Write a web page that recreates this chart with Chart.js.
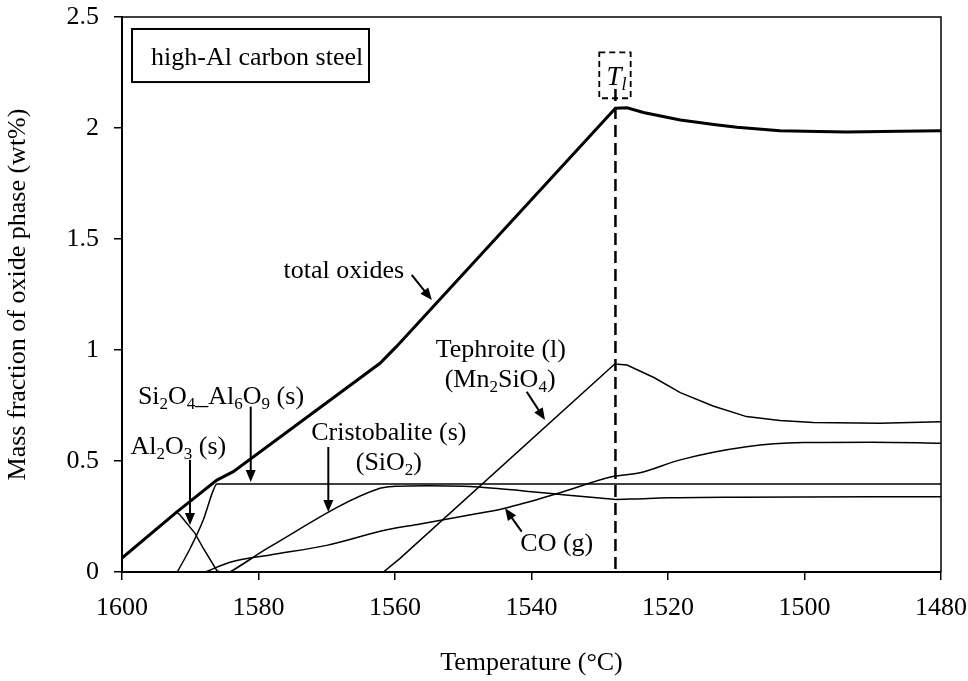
<!DOCTYPE html>
<html>
<head>
<meta charset="utf-8">
<title>Oxide phases in high-Al carbon steel</title>
<script src="https://cdn.jsdelivr.net/npm/chart.js@4.4.1/dist/chart.umd.min.js"></script>
<style>
  html, body { margin: 0; padding: 0; background: #fff; }
  #wrap { width: 968px; height: 681px; }
</style>
</head>
<body>
<div id="wrap"><canvas id="oxideChart" width="968" height="681"></canvas></div>
<script>
const FONT = '"Liberation Serif", "Times New Roman", serif';

// equilibrium oxide amounts (wt%) vs temperature (degC), cooling from 1600
const totalTemp = [1600, 1592, 1586.1, 1583.7, 1562.2, 1559.8, 1527.7, 1526, 1523.6, 1518.2, 1513, 1509.9, 1503.6, 1498, 1493.8, 1486, 1480];
const totalWt   = [0.063, 0.27, 0.414, 0.452, 0.94, 1.015, 2.089, 2.091, 2.07, 2.036, 2.015, 2.003, 1.988, 1.984, 1.982, 1.985, 1.988];

const al2o3Temp = [1600, 1592, 1591.5, 1589.3, 1588.1, 1586.1, 1585.6];
const al2o3Wt   = [0.063, 0.27, 0.257, 0.174, 0.107, 0.006, 0];

const mulliteTemp = [1591.9, 1590, 1588.1, 1586.6, 1586.1, 1480];
const mulliteWt   = [0, 0.107, 0.234, 0.37, 0.396, 0.396];

const cristobaliteTemp = [1584.2, 1583.9, 1578.3, 1562.2, 1560, 1555, 1550, 1545, 1540, 1535, 1530, 1527.7, 1525, 1520, 1510, 1480];
const cristobaliteWt   = [0, 0.005, 0.114, 0.377, 0.386, 0.389, 0.386, 0.376, 0.362, 0.347, 0.333, 0.327, 0.329, 0.334, 0.337, 0.339];

const coTemp = [1587.8, 1583.9, 1578.3, 1570, 1561.2, 1556.3, 1549.5, 1543.9, 1535.8, 1528.1, 1524.1, 1518.2, 1508.5, 1500.2, 1490, 1480];
const coWt   = [0, 0.046, 0.077, 0.12, 0.19, 0.216, 0.254, 0.287, 0.357, 0.43, 0.447, 0.505, 0.564, 0.583, 0.585, 0.58];

const tephroiteTemp = [1561.7, 1559.3, 1527.8, 1526, 1522, 1518.2, 1513.4, 1508.5, 1503.6, 1498.7, 1489, 1480];
const tephroiteWt   = [0, 0.06, 0.937, 0.932, 0.875, 0.808, 0.748, 0.70, 0.682, 0.673, 0.67, 0.677];

const liquidusTemp = 1527.7;

const xTicks = [1600, 1580, 1560, 1540, 1520, 1500, 1480];
const yTicks = [0, 0.5, 1, 1.5, 2, 2.5];

const pts = (t, v) => t.map((x, i) => ({ x, y: v[i] }));

// phase labels: text parts are [text, subscript?, italic?], positions in (degC, wt%)
const labels = [
  { parts: [['total oxides']], at: [1567.5, 1.365] },
  { parts: [['Si'], ['2', 1], ['O'], ['4', 1], ['_Al'], ['6', 1], ['O'], ['9', 1], [' (s)']], at: [1585.5, 0.795] },
  { parts: [['Al'], ['2', 1], ['O'], ['3', 1], [' (s)']], at: [1591.75, 0.57] },
  { parts: [['Cristobalite (s)']], at: [1560.9, 0.631] },
  { parts: [['(SiO'], ['2', 1], [')']], at: [1560.9, 0.5] },
  { parts: [['Tephroite (l)']], at: [1544.5, 1.005] },
  { parts: [['(Mn'], ['2', 1], ['SiO'], ['4', 1], [')']], at: [1544.6, 0.874] },
  { parts: [['CO (g)']], at: [1536.3, 0.131] }
];

const arrows = [
  { from: [1557.55, 1.338], to: [1554.6, 1.225] },
  { from: [1581.14, 0.745], to: [1581.14, 0.405] },
  { from: [1590.04, 0.505], to: [1590.04, 0.212] },
  { from: [1569.77, 0.563], to: [1569.77, 0.27] },
  { from: [1540.7, 0.812], to: [1538.02, 0.685] },
  { from: [1541.44, 0.182], to: [1543.88, 0.287] }
];

function drawRich(ctx, parts, cx, cy, size) {
  const subSize = Math.round(size * 0.66);
  const fontOf = p => `${p[2] ? 'italic ' : ''}${p[1] ? subSize : size}px ${FONT}`;
  let w = 0;
  parts.forEach(p => { ctx.font = fontOf(p); w += ctx.measureText(p[0]).width; });
  let x = cx - w / 2;
  const base = cy + size * 0.33;
  ctx.textAlign = 'left';
  ctx.textBaseline = 'alphabetic';
  parts.forEach(p => {
    ctx.font = fontOf(p);
    ctx.fillText(p[0], x, p[1] ? base + size * 0.2 : base);
    x += ctx.measureText(p[0]).width;
  });
}

function drawArrow(ctx, x1, y1, x2, y2) {
  const ang = Math.atan2(y2 - y1, x2 - x1);
  const len = 12, half = 5;
  ctx.beginPath();
  ctx.moveTo(x1, y1);
  ctx.lineTo(x2 - Math.cos(ang) * len * 0.8, y2 - Math.sin(ang) * len * 0.8);
  ctx.stroke();
  ctx.beginPath();
  ctx.moveTo(x2, y2);
  ctx.lineTo(x2 - Math.cos(ang) * len + Math.sin(ang) * half, y2 - Math.sin(ang) * len - Math.cos(ang) * half);
  ctx.lineTo(x2 - Math.cos(ang) * len - Math.sin(ang) * half, y2 - Math.sin(ang) * len + Math.cos(ang) * half);
  ctx.closePath();
  ctx.fill();
}

const annotationPlugin = {
  id: 'phaseNotes',
  afterDatasetsDraw(chart) {
    const { ctx, chartArea: a, scales: { x, y } } = chart;
    const px = t => x.getPixelForValue(t);
    const py = v => y.getPixelForValue(v);
    ctx.save();
    ctx.strokeStyle = '#000';
    ctx.fillStyle = '#000';

    // top and right frame
    ctx.lineWidth = 1.5;
    ctx.beginPath();
    ctx.moveTo(a.left, a.top);
    ctx.lineTo(a.right, a.top);
    ctx.lineTo(a.right, a.bottom);
    ctx.stroke();

    // liquidus temperature marker
    ctx.lineWidth = 2.5;
    ctx.setLineDash([12, 6]);
    ctx.beginPath();
    ctx.moveTo(px(liquidusTemp), py(2.176));
    ctx.lineTo(px(liquidusTemp), a.bottom);
    ctx.stroke();
    ctx.lineWidth = 1.8;
    ctx.setLineDash([6, 4]);
    const bx1 = px(1530.07), bx2 = px(1525.47), by1 = py(2.341), by2 = py(2.134);
    ctx.strokeRect(bx1, by1, bx2 - bx1, by2 - by1);
    ctx.setLineDash([]);
    drawRich(ctx, [['T', 0, 1], ['l', 1, 1]], px(liquidusTemp) + 1, py(2.236), 27);

    // steel grade box
    ctx.lineWidth = 2;
    const gx1 = px(1598.53), gx2 = px(1563.81), gy1 = py(2.446), gy2 = py(2.207);
    ctx.strokeRect(gx1, gy1, gx2 - gx1, gy2 - gy1);
    drawRich(ctx, [['high-Al carbon steel']], px(1580.2), py(2.324), 26);

    labels.forEach(l => drawRich(ctx, l.parts, px(l.at[0]), py(l.at[1]), 26));

    ctx.lineWidth = 2;
    arrows.forEach(r => drawArrow(ctx, px(r.from[0]), py(r.from[1]), px(r.to[0]), py(r.to[1])));
    ctx.restore();
  }
};

const line = (label, data, width, mode) => ({
  label, data, borderColor: '#000', borderWidth: width,
  pointRadius: 0, fill: false, tension: 0,
  cubicInterpolationMode: mode || 'default'
});

new Chart(document.getElementById('oxideChart'), {
  type: 'line',
  data: {
    datasets: [
      line('total oxides', pts(totalTemp, totalWt), 3),
      line('Al2O3 (s)', pts(al2o3Temp, al2o3Wt), 1.5),
      line('Si2O4_Al6O9 (s)', pts(mulliteTemp, mulliteWt), 1.5, 'monotone'),
      line('Cristobalite (s)', pts(cristobaliteTemp, cristobaliteWt), 1.5, 'monotone'),
      line('CO (g)', pts(coTemp, coWt), 1.5, 'monotone'),
      line('Tephroite (l)', pts(tephroiteTemp, tephroiteWt), 1.5)
    ]
  },
  options: {
    responsive: false,
    animation: false,
    events: [],
    layout: { padding: { top: 17, right: 27, left: 0, bottom: 0 } },
    plugins: { legend: { display: false }, tooltip: { enabled: false } },
    scales: {
      x: {
        type: 'linear', reverse: true, min: 1480, max: 1600,
        afterBuildTicks: s => { s.ticks = xTicks.map(v => ({ value: v })); },
        afterFit: s => { s.height = 109; s.paddingLeft = 0; s.paddingRight = 0; },
        grid: { drawOnChartArea: false, drawTicks: true, tickLength: 8, color: '#000', lineWidth: 1.5 },
        border: { color: '#000', width: 2 },
        ticks: { color: '#000', padding: 13, maxRotation: 0, callback: v => String(v), font: { family: FONT, size: 26 } },
        title: { display: true, text: 'Temperature (°C)', color: '#000', padding: { top: 0, bottom: 2 }, font: { family: FONT, size: 26 } }
      },
      y: {
        min: 0, max: 2.5,
        afterBuildTicks: s => { s.ticks = yTicks.map(v => ({ value: v })); },
        afterFit: s => { s.width = 122; s.paddingTop = 0; s.paddingBottom = 0; },
        grid: { drawOnChartArea: false, drawTicks: true, tickLength: 8, color: '#000', lineWidth: 1.5 },
        border: { color: '#000', width: 2 },
        ticks: { color: '#000', padding: 15, callback: v => String(v), font: { family: FONT, size: 26 } },
        title: { display: true, text: 'Mass fraction of oxide phase (wt%)', color: '#000', padding: { top: 3, bottom: 0 }, font: { family: FONT, size: 26 } }
      }
    }
  },
  plugins: [annotationPlugin]
});
</script>
</body>
</html>
